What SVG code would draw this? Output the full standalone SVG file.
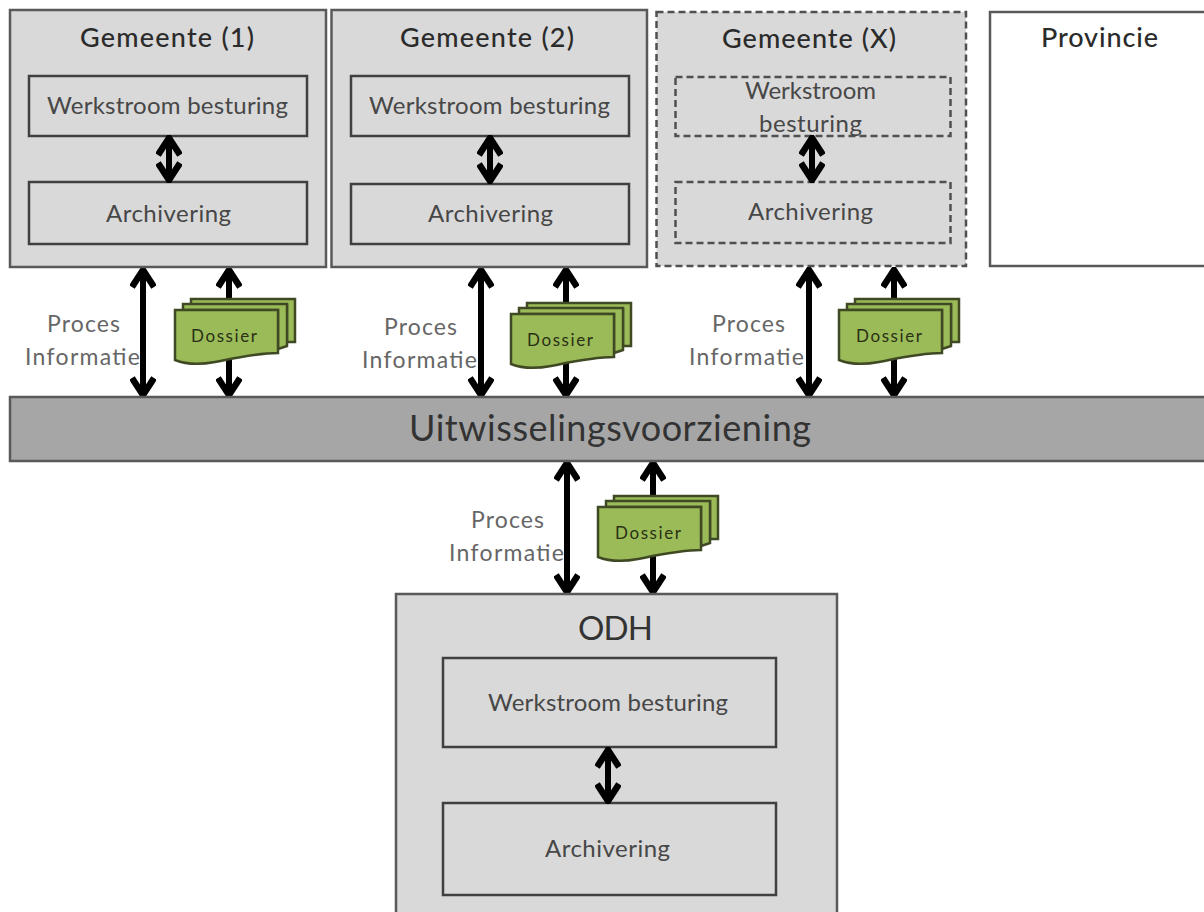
<svg xmlns="http://www.w3.org/2000/svg" width="1204" height="912" viewBox="0 0 1204 912">
<style>
text{font-family:"Lato","Open Sans","Liberation Sans",sans-serif;fill:#404040}
.outer{fill:#d9d9d9;stroke:#595959;stroke-width:2.5}
.inner{fill:#d9d9d9;stroke:#404040;stroke-width:2.5}
.dash{fill:#d9d9d9;stroke:#505050;stroke-width:2.5;stroke-dasharray:7 4}
.white{fill:#fff;stroke:#595959;stroke-width:2.5}
.bar{fill:#a6a6a6;stroke:#595959;stroke-width:2.5}
.title{font-size:27px;fill:#2b2b2b;font-weight:500}
.body{font-size:24px;fill:#474747}
.label{font-size:23px;fill:#666}
.doc{font-size:17px;fill:#2a3014}
.conn{stroke:#000;stroke-width:6;fill:none;marker-start:url(#head);marker-end:url(#head)}
.page{fill:#9bbb59;stroke:#3f4a24;stroke-width:2.5}
</style>
<defs>
<marker id="head" viewBox="0 0 22 26" refX="20" refY="13" markerWidth="22" markerHeight="26" markerUnits="userSpaceOnUse" orient="auto-start-reverse">
<path d="M2 2 L19 13 L2 24" fill="none" stroke="#000" stroke-width="6.5" stroke-linejoin="miter"/>
</marker>
<g id="dossier">
<path class="page" d="M16 -11H120V32H112V-5H16Z"/>
<path class="page" d="M8 -6H112V36L103 39V0H8Z"/>
<path class="page" d="M0 0H103V43C82 43 60 48 40 52C24 55 10 54 0 50Z"/>
</g>
</defs>
<rect width="1204" height="912" fill="#fff"/>
<g id="connectors">
<path class="conn" d="M143 269V396"/>
<path class="conn" d="M229 269V396"/>
<path class="conn" d="M481 269V396"/>
<path class="conn" d="M566 269V396"/>
<path class="conn" d="M809 269V396"/>
<path class="conn" d="M894 269V396"/>
<path class="conn" d="M567 462V593"/>
<path class="conn" d="M653 462V593"/>
</g>
<g id="gemeente-1">
<rect class="outer" x="10" y="10" width="316" height="257"/>
<text class="title" x="80" y="47" textLength="174">Gemeente (1)</text>
<rect class="inner" x="29" y="76" width="278" height="60"/>
<text class="body" x="47" y="114" textLength="241">Werkstroom besturing</text>
<rect class="inner" x="29" y="182" width="278" height="62"/>
<text class="body" x="106" y="222" textLength="125">Archivering</text>
</g>
<g id="gemeente-2">
<rect class="outer" x="331.500" y="10" width="315.500" height="257"/>
<text class="title" x="400" y="47" textLength="174">Gemeente (2)</text>
<rect class="inner" x="351" y="76" width="278" height="60"/>
<text class="body" x="369" y="114" textLength="241">Werkstroom besturing</text>
<rect class="inner" x="351" y="184" width="278" height="60"/>
<text class="body" x="428" y="222" textLength="125">Archivering</text>
</g>
<g id="gemeente-x">
<rect class="dash" x="656.500" y="12" width="309.500" height="254"/>
<text class="title" x="722" y="48" textLength="174">Gemeente (X)</text>
<rect class="dash" x="675.500" y="77" width="275" height="59"/>
<text class="body" x="745" y="99" textLength="131">Werkstroom</text>
<text class="body" x="759" y="132" textLength="103">besturing</text>
<rect class="dash" x="675.500" y="182" width="275" height="61"/>
<text class="body" x="748" y="220" textLength="125">Archivering</text>
</g>
<g id="provincie">
<rect class="white" x="990" y="12" width="230" height="254"/>
<text class="title" x="1041" y="47" textLength="117">Provincie</text>
</g>
<g id="uitwisseling">
<rect class="bar" x="10" y="397" width="1210" height="64"/>
<text x="409" y="441" font-size="36" textLength="402" style="fill:#333">Uitwisselingsvoorziening</text>
</g>
<g id="odh">
<rect class="outer" x="396" y="594" width="441" height="330"/>
<text x="578" y="640" font-size="33" textLength="75" style="fill:#333">ODH</text>
<rect class="inner" x="443" y="658" width="333" height="89"/>
<text class="body" x="488" y="711" textLength="240">Werkstroom besturing</text>
<rect class="inner" x="443" y="803" width="333" height="92"/>
<text class="body" x="545" y="857" textLength="125">Archivering</text>
</g>
<g id="inner-connectors">
<path class="conn" d="M169 137V181"/>
<path class="conn" d="M490 137V182"/>
<path class="conn" d="M812 137V181"/>
<path class="conn" d="M608 749V802"/>
</g>
<g id="dossier-1"><use href="#dossier" x="175" y="310"/><text class="doc" x="191" y="342" textLength="66">Dossier</text></g>
<g id="dossier-2"><use href="#dossier" x="511" y="314"/><text class="doc" x="527" y="346" textLength="66">Dossier</text></g>
<g id="dossier-3"><use href="#dossier" x="839" y="310"/><text class="doc" x="856" y="342" textLength="66">Dossier</text></g>
<g id="dossier-4"><use href="#dossier" x="598" y="507"/><text class="doc" x="615" y="539" textLength="66">Dossier</text></g>
<g id="labels">
<text class="label" x="47" y="332" textLength="73">Proces</text>
<text class="label" x="25" y="365" textLength="115">Informatie</text>
<text class="label" x="384" y="335" textLength="73">Proces</text>
<text class="label" x="362" y="368" textLength="115">Informatie</text>
<text class="label" x="712" y="332" textLength="73">Proces</text>
<text class="label" x="689" y="365" textLength="115">Informatie</text>
<text class="label" x="471" y="528" textLength="73">Proces</text>
<text class="label" x="449" y="561" textLength="115">Informatie</text>
</g>
</svg>
